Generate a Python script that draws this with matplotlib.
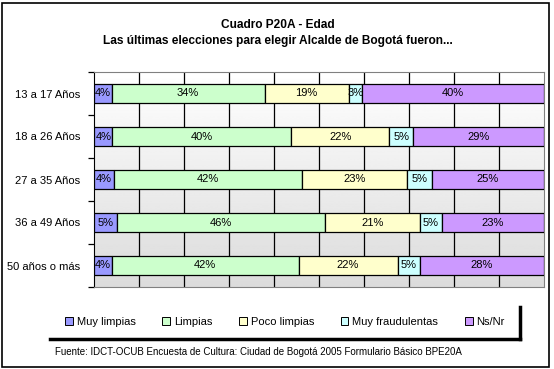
import numpy as np
import matplotlib.pyplot as plt
from matplotlib.patches import Patch, Rectangle
from matplotlib.lines import Line2D

plt.rcParams['font.family'] = ['Liberation Sans', 'DejaVu Sans']

grupos = ["13 a 17 Años", "18 a 26 Años", "27 a 35 Años", "36 a 49 Años", "50 años o más"]
series = ["Muy limpias", "Limpias", "Poco limpias", "Muy fraudulentas", "Ns/Nr"]
colores = ["#9999FF", "#CCFFCC", "#FFFFCC", "#CCFFFF", "#CC99FF"]

# porcentajes (por grupo de edad)
muy_limpias = [3.9, 4.0, 4.3, 5.0, 3.9]
limpias = [34.0, 39.9, 42.0, 46.4, 41.6]
poco_limpias = [18.7, 21.7, 23.4, 21.0, 22.0]
muy_fraud = [3.0, 5.4, 5.4, 4.9, 4.9]
ns_nr = [40.4, 29.0, 24.9, 22.7, 27.6]

datos = [muy_limpias, limpias, poco_limpias, muy_fraud, ns_nr]

W, H = 554, 369
fig = plt.figure(figsize=(W / 100, H / 100), dpi=100)

ax = fig.add_axes([94.3 / W, 1 - 287 / H, 449.2 / W, 215 / H])

# fondo degradado
grad = np.linspace(1.0, 0.86, 256).reshape(-1, 1)
ax.imshow(grad, cmap="gray", vmin=0, vmax=1, extent=[0, 1, 0, 1],
          transform=ax.transAxes, aspect="auto", zorder=0)

y = np.arange(len(grupos))
izq = np.zeros(len(grupos))
for vals, col in zip(datos, colores):
    vals = np.array(vals)
    ax.barh(y, vals, left=izq, height=0.42, color=col, edgecolor="black",
            linewidth=0.9, zorder=3)
    for yi, l, v in zip(y, izq, vals):
        ax.text(l + v / 2, yi, f"{v:.0f}%", ha="center", va="center",
                fontsize=8, color="black", zorder=4)
    izq += vals

ax.set_xlim(0, 100)
ax.set_ylim(len(grupos) - 0.5, -0.5)
for xg in range(10, 100, 10):
    ax.axvline(xg, color="black", linewidth=0.9, zorder=1)

ax.set_xticks([])
ax.set_yticks(y)
ax.set_yticklabels(grupos, fontsize=8)
ax.tick_params(axis="y", which="major", length=0, pad=10)
ax.set_yticks(np.arange(-0.5, len(grupos)), minor=True)
ax.tick_params(axis="y", which="minor", length=4, width=0.9, direction="out")

ax.spines["left"].set_color("black")
for s in ["right", "top", "bottom"]:
    ax.spines[s].set_color("#808080")

fig.text(278 / W, 1 - 25 / H, "Cuadro P20A - Edad", ha="center", va="center",
         fontsize=8.6, fontweight="bold")
fig.text(278 / W, 1 - 41 / H,
         "Las últimas elecciones para elegir Alcalde de Bogotá fueron...",
         ha="center", va="center", fontsize=8.6, fontweight="bold")

handles = [Patch(facecolor=c, edgecolor="black", linewidth=0.7, label=s)
           for s, c in zip(series, colores)]
fig.legend(handles=handles, loc="center", bbox_to_anchor=(285 / W, 1 - 322 / H),
           ncol=5, frameon=False, fontsize=8, handlelength=0.7, handleheight=0.7,
           handletextpad=0.35, columnspacing=2.4)

# sombra de la leyenda
fig.add_artist(Line2D([50 / W, 520 / W], [1 - 339 / H, 1 - 339 / H],
                      color="black", linewidth=2.5))
fig.add_artist(Line2D([520 / W, 520 / W], [1 - 307 / H, 1 - 339 / H],
                      color="black", linewidth=2.5))

fig.text(55 / W, 1 - 352 / H,
         "Fuente: IDCT-OCUB Encuesta de Cultura: Ciudad de Bogotá 2005 Formulario Básico BPE20A",
         ha="left", va="center", fontsize=7)

fig.add_artist(Rectangle((1.5 / W, 2.5 / H), 547 / W, 364 / H, fill=False,
                         edgecolor="black", linewidth=1.2, transform=fig.transFigure))

fig.savefig("out.png", dpi=100)
